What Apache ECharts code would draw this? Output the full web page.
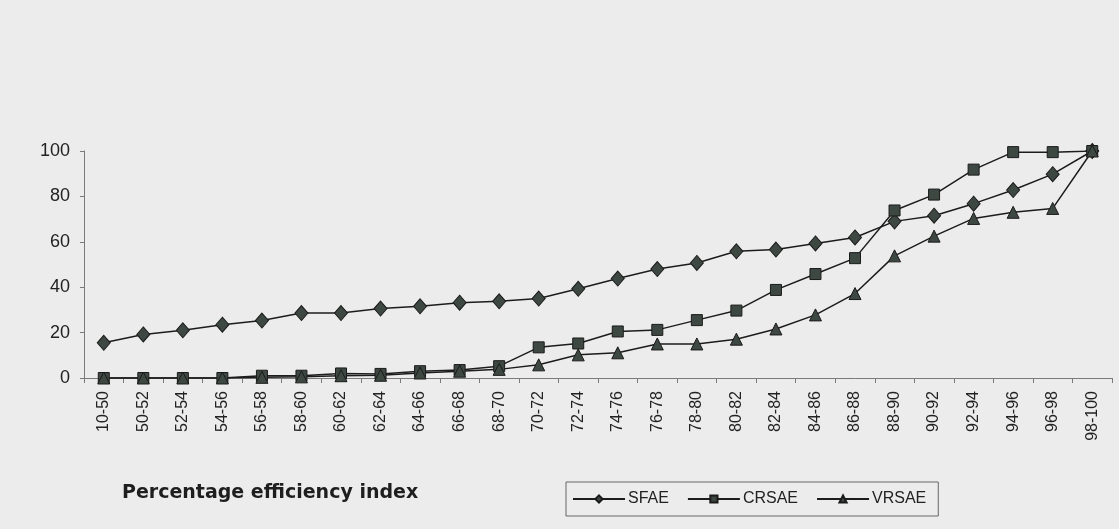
<!DOCTYPE html>
<html>
<head>
<meta charset="utf-8">
<style>
  html, body { margin: 0; padding: 0; background: #ececec; }
  #chart { width: 1119px; height: 529px; }
</style>
<script src="https://cdn.jsdelivr.net/npm/echarts@6/dist/echarts.min.js"></script>
</head>
<body>
<div id="chart"></div>
<script>
// Efficiency-index classes (percent)
const categories = [
  '10-50', '50-52', '52-54', '54-56', '56-58', '58-60', '60-62', '62-64', '64-66',
  '66-68', '68-70', '70-72', '72-74', '74-76', '76-78', '78-80', '80-82', '82-84',
  '84-86', '86-88', '88-90', '90-92', '92-94', '94-96', '96-98', '98-100'
];

// Cumulative share of units in each class, per estimation approach
const sfae = [15.5, 19.2, 21, 23.5, 25.3, 28.6, 28.6, 30.6, 31.6, 33.2, 33.8, 35, 39.3,
  43.8, 48, 50.7, 55.8, 56.6, 59.3, 61.9, 69, 71.5, 76.8, 82.8, 89.8, 100];
const crsae = [0, 0, 0, 0, 1, 1, 2, 1.8, 3, 3.5, 5.2, 13.5, 15.2,
  20.5, 21.2, 25.5, 29.7, 38.8, 45.8, 52.8, 73.8, 80.8, 91.8, 99.5, 99.5, 100];
const vrsae = [0, 0, 0, 0, 0.3, 0.5, 1, 1.2, 2.2, 3, 3.8, 5.8, 10.2,
  11.1, 15, 15, 17.1, 21.6, 27.8, 37.2, 53.8, 62.5, 70.3, 73, 74.7, 100];

const yTicks = [0, 20, 40, 60, 80, 100];

const FONT = "'Liberation Sans', Arial, sans-serif";
const markerFill = '#3e4843';
const lineColor = '#1c1c1c';

function lineSeries(name, data, symbol, size) {
  return {
    name: name,
    type: 'line',
    data: data,
    symbol: symbol,
    symbolSize: size,
    showAllSymbol: true,
    lineStyle: { color: lineColor, width: 1.5 },
    itemStyle: { color: markerFill, borderColor: '#1a1a1a', borderWidth: 1 },
    emphasis: { disabled: true },
    animation: false
  };
}

const chart = echarts.init(document.getElementById('chart'), null, { renderer: 'canvas' });

chart.setOption({
  backgroundColor: '#ececec',
  animation: false,
  grid: { left: 84, right: 7, top: 151, bottom: 151, containLabel: false },
  xAxis: {
    type: 'category',
    data: categories,
    boundaryGap: true,
    axisLine: { lineStyle: { color: '#7a7a7a', width: 1 } },
    axisTick: { show: true, alignWithLabel: false, length: 5, lineStyle: { color: '#7a7a7a' } },
    axisLabel: {
      interval: 0,
      rotate: 90,
      margin: 13,
      color: '#222',
      fontFamily: FONT,
      fontSize: 16
    },
    splitLine: { show: false }
  },
  yAxis: {
    type: 'value',
    min: yTicks[0],
    max: yTicks[yTicks.length - 1],
    interval: yTicks[1] - yTicks[0],
    axisLine: { show: true, lineStyle: { color: '#7a7a7a', width: 1 } },
    axisTick: { show: true, length: 4, lineStyle: { color: '#7a7a7a' } },
    axisLabel: { color: '#222', fontFamily: FONT, fontSize: 18, margin: 14 },
    splitLine: { show: false }
  },
  legend: {
    left: 566,
    top: 482,
    orient: 'horizontal',
    itemWidth: 52,
    itemHeight: 9,
    itemGap: 18,
    padding: [9, 12, 9, 6],
    borderColor: '#666',
    borderWidth: 1,
    textStyle: { color: '#222', fontFamily: FONT, fontSize: 16, padding: [0, 0, 0, -2] },
    data: ['SFAE', 'CRSAE', 'VRSAE']
  },
  graphic: [
    {
      type: 'text',
      left: 122,
      top: 484,
      style: {
        text: 'Percentage efficiency index',
        fill: '#1e1e1e',
        font: "bold 19px 'DejaVu Sans', 'Liberation Sans', Arial, sans-serif"
      }
    }
  ],
  series: [
    lineSeries('SFAE', sfae, 'diamond', [13, 15]),
    lineSeries('CRSAE', crsae, 'rect', 11),
    lineSeries('VRSAE', vrsae, 'triangle', 12)
  ]
});
</script>
</body>
</html>
